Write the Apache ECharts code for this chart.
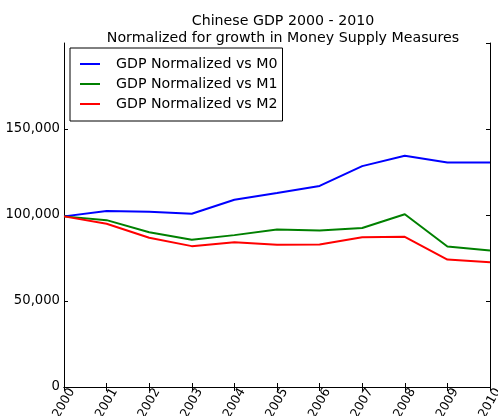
<!DOCTYPE html>
<html><head><meta charset="utf-8">
<script src="https://cdn.jsdelivr.net/npm/echarts@6/dist/echarts.min.js"></script>
<style>html,body{margin:0;padding:0;background:#fff}#c{width:498px;height:416px}</style>
</head><body><div id="c"></div>
<script>
const years = ['2000','2001','2002','2003','2004','2005','2006','2007','2008','2009','2010'];
const seriesNames = ['GDP Normalized vs M0','GDP Normalized vs M1','GDP Normalized vs M2'];
const m0 = [99200,102300,101900,100700,108900,112800,116900,128400,134400,130500,130500];
const m1 = [99200,97000,90000,85600,88300,91600,91000,92400,100400,81700,79300];
const m2 = [99200,94900,86800,81900,84200,82700,82900,87100,87300,74100,72500];
const yTicks = [0,50000,100000,150000,200000];
const colors = ['#0000ff','#008000','#ff0000'];
const font = 'DejaVu Sans';
const chart = echarts.init(document.getElementById('c'), null, {renderer:'canvas'});
const axisLine = {show:true, lineStyle:{color:'#000', width:1}};
chart.setOption({
  animation:false,
  title:{
    text:'Chinese GDP 2000 - 2010\nNormalized for growth in Money Supply Measures',
    left:278, top:8, textAlign:'center',
    textStyle:{fontFamily:font, fontSize:14.2, fontWeight:'normal', color:'#000', lineHeight:17}
  },
  legend:{
    orient:'vertical', left:70, top:48,
    data:seriesNames.map(n=>({name:n, icon:'rect'})),
    borderColor:'#000', borderWidth:1, borderRadius:0,
    padding:[9,5,10,10], itemGap:6, itemWidth:20, itemHeight:2,
    textStyle:{fontFamily:font, fontSize:14.2, color:'#000', padding:[0,0,0,11]}
  },
  grid:{left:64, right:8, top:43, bottom:29, containLabel:false, outerBoundsMode:'none'},
  xAxis:[{
    type:'category', data:years, boundaryGap:false,
    axisLine:axisLine,
    axisTick:{show:true, inside:true, length:4, alignWithLabel:true, lineStyle:{color:'#000'}},
    axisLabel:{rotate:60, align:'center', verticalAlign:'middle', margin:16, fontFamily:font, fontSize:12.5, color:'#000', interval:0},
    splitLine:{show:false}
  },{
    type:'category', data:years, boundaryGap:false, position:'top',
    axisLine:axisLine,
    axisTick:{show:true, inside:true, length:4, lineStyle:{color:'#000'}},
    axisLabel:{show:false}, splitLine:{show:false}
  }],
  yAxis:[{
    type:'value', min:yTicks[0], max:yTicks[yTicks.length-1], interval:yTicks[1]-yTicks[0],
    axisLine:axisLine,
    axisTick:{show:true, inside:true, length:4, lineStyle:{color:'#000'}},
    axisLabel:{showMaxLabel:false, margin:4, fontFamily:font, fontSize:13.2, color:'#000',
      formatter:v=>v.toLocaleString('en-US')},
    splitLine:{show:false}
  },{
    type:'value', min:yTicks[0], max:yTicks[yTicks.length-1], interval:yTicks[1]-yTicks[0], position:'right',
    axisLine:axisLine,
    axisTick:{show:true, inside:true, length:4, lineStyle:{color:'#000'}},
    axisLabel:{show:false}, splitLine:{show:false}
  }],
  series:[m0,m1,m2].map((d,i)=>({
    name:seriesNames[i], type:'line', data:d, symbol:'none',
    lineStyle:{color:colors[i], width:2}, itemStyle:{color:colors[i]}
  }))
});
</script></body></html>
